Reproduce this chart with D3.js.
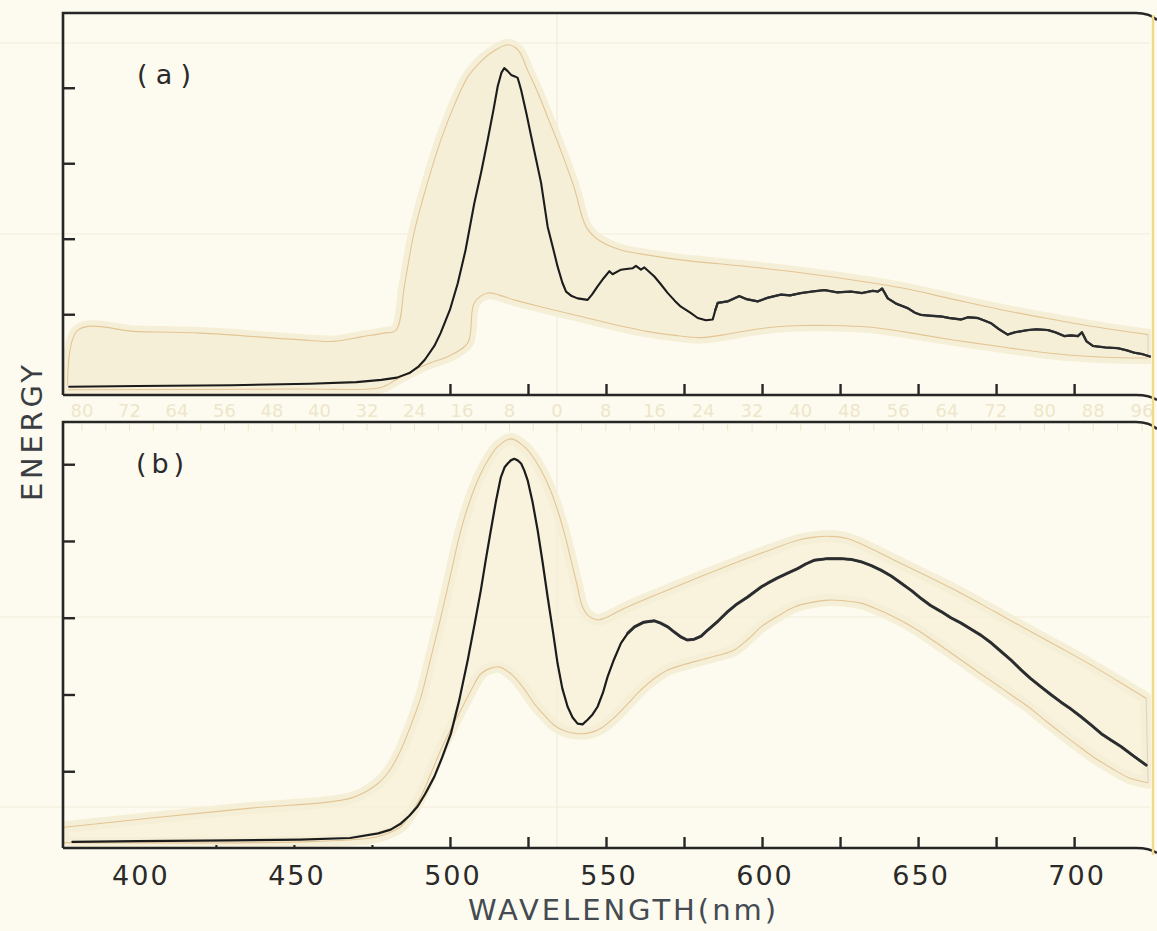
<!DOCTYPE html>
<html>
<head>
<meta charset="utf-8">
<script src="https://cdn.jsdelivr.net/npm/d3@7"></script>
<style>
  html, body { margin: 0; padding: 0; background: #fdfbef; }
  svg { display: block; }
  text { font-family: "DejaVu Sans", sans-serif; }
</style>
</head>
<body>
<svg id="chart" width="1157" height="931"></svg>
<script>
// ---- data: wavelength (nm) vs. relative energy ----
const wavelengthDomain = [376, 724];
const energyTicksA = [1, 2, 3, 4];
const energyTicksB = [1, 2, 3, 4, 5];
const majorTicks = [500, 525, 550, 575, 600, 625, 650, 675, 700];
const minorTicks = [425, 450, 475];
const wavelengthLabels = [400, 450, 500, 550, 600, 650, 700];
const rulerLabels = [-80, -72, -64, -56, -48, -40, -32, -24, -16, -8, 0, 8, 16, 24, 32, 40, 48, 56, 64, 72, 80, 88, 96];

// spectrum (a): measured trace
const traceA = [
  [378,0.04],[400,0.05],[430,0.06],[455,0.08],[470,0.10],[478,0.13],[483,0.16],[487,0.22],[490,0.31],
  [492,0.40],[495,0.58],[497,0.75],[500,1.06],[502.5,1.41],[505,1.85],[507.8,2.47],[510,2.88],[512.1,3.31],
  [514,3.72],[515.3,4.02],[516.5,4.20],[517.4,4.26],[518.5,4.22],[519.6,4.17],[520.8,4.15],[521.7,4.13],
  [522.2,4.06],[522.8,3.97],[524.5,3.66],[526,3.36],[527.6,3.05],[529.2,2.74],[531.3,2.16],[533,1.88],
  [534.5,1.63],[536,1.42],[537.2,1.30],[539,1.24],[540.9,1.21],[544.1,1.19],[545.5,1.26],[547.3,1.37],
  [549.3,1.48],[551.1,1.57],[552.1,1.53],[554.8,1.59],[556.5,1.60],[558.6,1.61],[559.6,1.64],[561.2,1.59],
  [562.3,1.62],[565.5,1.50],[567.5,1.40],[569.8,1.28],[572,1.18],[574,1.10],[577,1.02],[579.4,0.95],
  [582,0.92],[584.2,0.93],[585,1.05],[585.8,1.15],[589,1.17],[592.7,1.24],[595,1.20],[598.6,1.17],
  [602,1.22],[606.1,1.26],[609,1.25],[612.5,1.28],[616,1.30],[620,1.32],[624,1.29],[628.5,1.30],
  [632,1.28],[635.5,1.31],[637.1,1.30],[638.5,1.34],[640.3,1.21],[643,1.14],[646.7,1.08],[649,1.02],
  [651,0.99],[654,0.98],[657.4,0.97],[660,0.95],[663.8,0.93],[666,0.96],[669.1,0.95],[671,0.92],
  [673.4,0.88],[676,0.80],[678.7,0.73],[681,0.76],[685.2,0.79],[688,0.80],[691.6,0.79],[694,0.76],
  [696.9,0.71],[699,0.72],[701.2,0.71],[702.5,0.76],[704,0.64],[706,0.58],[710,0.56],[714,0.55],
  [717,0.52],[719.3,0.49],[722,0.47],[724.3,0.44]
];
// spectrum (a): envelope of the spread
const bandAUpper = [
  [377.5,0.05],[380.8,0.79],[400,0.77],[420.2,0.75],[452.2,0.66],[462.8,0.64],[471.5,0.70],[478.8,0.75],
  [482.7,0.79],[485.5,1.40],[488.5,2.08],[492.5,2.70],[497.1,3.31],[501.5,3.78],[505.8,4.15],[509.5,4.33],
  [513.1,4.46],[518.6,4.57],[521.8,4.50],[525,4.22],[528.2,3.93],[531.4,3.60],[534.6,3.27],[539.7,2.69],
  [543.6,2.16],[547.4,1.99],[554.8,1.85],[564,1.78],[574,1.72],[595.5,1.63],[612.5,1.55],[628,1.46],
  [644.6,1.35],[660,1.21],[676.6,1.06],[692,0.94],[708.7,0.82],[723.7,0.73]
];
const bandALower = [
  [377.5,0.00],[452.2,0.01],[477.9,0.03],[483,0.14],[488.5,0.26],[494,0.36],[499.4,0.44],[505.7,0.62],
  [507.8,1.15],[512.1,1.28],[516,1.25],[520.5,1.19],[531,1.08],[542,0.97],[553,0.86],[563.5,0.77],
  [572,0.72],[580.4,0.69],[588,0.73],[596.5,0.79],[604,0.83],[612.5,0.85],[623,0.85],[634,0.83],
  [645,0.77],[655.1,0.70],[666,0.63],[676.6,0.57],[687,0.51],[698.1,0.46],[710,0.43],[723.7,0.42]
];

// spectrum (b): measured trace
const traceB = [
  [379,0.08],[400,0.09],[430,0.10],[452,0.11],[468,0.13],[477,0.19],[481,0.24],[484.3,0.32],[487,0.42],
  [489.6,0.54],[492,0.70],[495,0.93],[497.5,1.18],[500.3,1.49],[503,1.93],[505.7,2.45],[508,2.94],
  [509.9,3.36],[511.5,3.76],[513.1,4.14],[514.7,4.51],[516.3,4.83],[517.5,4.96],[518.5,5.01],[519.5,5.05],
  [520.6,5.07],[521.7,5.05],[522.8,5.01],[523.8,4.92],[524.9,4.79],[526.5,4.50],[528.1,4.14],[529.7,3.72],
  [531.3,3.27],[533,2.82],[534.5,2.40],[536,2.08],[537.7,1.84],[539.3,1.70],[540.9,1.62],[542.5,1.61],
  [544.1,1.67],[545.7,1.74],[547.3,1.84],[549,2.02],[550.5,2.23],[552.5,2.45],[554.8,2.67],[557,2.80],
  [559.1,2.88],[562,2.94],[565.5,2.96],[567.5,2.93],[569.8,2.88],[572,2.81],[574,2.75],[576,2.71],
  [578.3,2.72],[580.5,2.76],[582.6,2.84],[586,2.96],[589,3.08],[592,3.18],[595.4,3.27],[599.7,3.40],
  [601.8,3.45],[605,3.52],[608.2,3.58],[611.4,3.64],[614,3.70],[616.8,3.75],[621,3.77],[625.3,3.77],
  [628.5,3.76],[631.7,3.73],[635,3.68],[638.1,3.62],[641.5,3.54],[644.6,3.45],[648,3.35],[651,3.25],
  [654,3.16],[657.4,3.08],[660.5,3.00],[663.8,2.93],[667,2.85],[670.2,2.77],[673.5,2.67],[676.6,2.56],
  [680,2.44],[683,2.32],[686,2.21],[689.4,2.10],[692.5,2.00],[695.8,1.90],[699,1.81],[702.2,1.71],
  [705.5,1.60],[708.7,1.49],[712,1.40],[715.1,1.32],[719,1.20],[723.1,1.08]
];
// spectrum (b): envelope of the spread
const bandBUpper = [
  [376.3,0.27],[404.2,0.39],[436.2,0.52],[468.3,0.65],[476.3,0.82],[480.5,1.00],[484.3,1.28],[487.5,1.60],
  [490.7,1.97],[494,2.50],[497.1,3.01],[500.3,3.58],[503.5,4.14],[506.7,4.56],[509.9,4.88],[512.6,5.08],
  [515.3,5.23],[519.6,5.33],[523.8,5.23],[526.5,5.10],[529.2,4.92],[532,4.68],[534.5,4.40],[536.8,4.08],
  [538.8,3.75],[540.7,3.43],[542.5,3.14],[544.5,3.02],[547.3,2.97],[550.5,3.01],[554.8,3.10],[562,3.23],
  [569.8,3.36],[580,3.53],[591.1,3.71],[601,3.86],[611.4,4.01],[616.8,4.05],[622,4.06],[627.5,4.03],
  [635,3.90],[642.4,3.75],[653,3.54],[663.8,3.32],[674.5,3.08],[685.2,2.84],[696,2.60],[706.5,2.36],
  [715,2.15],[723.1,1.95]
];
const bandBLower = [
  [376.3,0.07],[452.2,0.08],[474.7,0.13],[480,0.19],[484.3,0.28],[487.5,0.45],[490.7,0.67],[494,0.98],
  [497.1,1.28],[500.3,1.55],[503.5,1.80],[506.7,2.05],[509.9,2.27],[512.8,2.34],[515.8,2.36],[518.2,2.31],
  [520.6,2.23],[523.8,2.07],[527,1.88],[530.2,1.73],[533.4,1.60],[537,1.52],[540.9,1.49],[544.6,1.50],
  [548.4,1.56],[552.7,1.70],[557,1.88],[560.2,2.02],[563.4,2.14],[566.6,2.24],[569.8,2.32],[575,2.39],
  [580.4,2.45],[586,2.51],[591.1,2.58],[595.5,2.72],[599.7,2.88],[605,3.02],[610.3,3.14],[615.8,3.20],
  [621.2,3.23],[626.5,3.22],[631.7,3.19],[637,3.11],[642.3,3.01],[647.8,2.89],[653.2,2.75],[658.5,2.60],
  [663.8,2.45],[669,2.30],[674.4,2.15],[680,1.99],[685.3,1.84],[690.5,1.67],[695.8,1.50],[701,1.34],
  [706.4,1.18],[712,1.04],[717.3,0.92],[720.5,0.88],[723.7,0.85]
];

// ---- drawing ----
const W = 1157, H = 931;
const LEFT = 63, RIGHT = 1149;
const ink = "#262626";
const paper = "#fdfbef";
const bandFill = "#f6efd7";
const bandEdge = "#e3c595";

const svg = d3.select("#chart");
svg.append("rect").attr("width", W).attr("height", H).attr("fill", paper);

const x = d3.scaleLinear().domain(wavelengthDomain).range([LEFT, RIGHT]);

const panels = [
  { top: 13, bottom: 395, yDomain: [-0.07, 4.99], yTicks: energyTicksA, trace: traceA,
    upper: bandAUpper, lower: bandALower, label: "(a)", labelX: 137, labelY: 84, labelLen: 54,
    minor: false, fillOpacity: 1, paperLines: [43, 234], traceWidth: 2.1, noisyFrom: 585, noisyWidth: 2.3 },
  { top: 422, bottom: 848, yDomain: [0, 5.55], yTicks: energyTicksB, trace: traceB,
    upper: bandBUpper, lower: bandBLower, label: "(b)", labelX: 136, labelY: 473, labelLen: 48,
    minor: true, fillOpacity: 0.7, paperLines: [617, 807], traceWidth: 2.2, noisyFrom: 556, noisyWidth: 3.0 }
];

// faint ruling of the chart paper
const paperG = svg.append("g").attr("stroke", "#f2eddb").attr("stroke-width", 1.2);
panels.forEach(p => {
  p.paperLines.forEach(yy => paperG.append("line").attr("x1", 0).attr("x2", 1150).attr("y1", yy).attr("y2", yy));
  paperG.append("line").attr("x1", 557).attr("x2", 557).attr("y1", p.top).attr("y2", p.bottom);
});

// faint ruler scale printed between the panels
const ruler = d3.scaleLinear().domain([-80, 0, 96]).range([82, 557, 1142]);
svg.append("g").selectAll("text").data(rulerLabels).join("text")
  .attr("x", d => ruler(d)).attr("y", 417)
  .attr("text-anchor", "middle").attr("font-size", 18)
  .attr("fill", "#eee6ca").text(d => Math.abs(d));
svg.append("g").attr("stroke", "#eee6cc").attr("stroke-width", 1)
  .selectAll("line").data(d3.range(-80, 97, 4)).join("line")
  .attr("x1", d => ruler(d)).attr("x2", d => ruler(d)).attr("y1", 424).attr("y2", 431);

panels.forEach((p, i) => {
  const y = d3.scaleLinear().domain(p.yDomain).range([p.bottom, p.top]);
  const g = svg.append("g");
  const clipId = "clip" + i;
  svg.append("clipPath").attr("id", clipId).append("rect")
    .attr("x", LEFT).attr("y", p.top).attr("width", RIGHT - LEFT + 2).attr("height", p.bottom - p.top);

  const edge = d3.line().x(d => x(d[0])).y(d => y(d[1])).curve(d3.curveCatmullRom.alpha(0.5));
  const upperPath = edge(p.upper);
  const lowerRev = edge(p.lower.slice().reverse());
  const areaPath = upperPath + "L" + lowerRev.slice(1) + "Z";

  const bandG = g.append("g").attr("clip-path", `url(#${clipId})`);
  // halo around the envelope
  bandG.append("path").attr("d", areaPath).attr("fill", bandFill).attr("fill-opacity", p.fillOpacity)
    .attr("stroke", bandFill).attr("stroke-width", 12).attr("stroke-linejoin", "round");
  // envelope outline
  bandG.append("path").attr("d", upperPath).attr("fill", "none").attr("stroke", bandEdge).attr("stroke-width", 1.1);
  bandG.append("path").attr("d", edge(p.lower)).attr("fill", "none").attr("stroke", bandEdge).attr("stroke-width", 1.1);
  const uEnd = p.upper[p.upper.length - 1], lEnd = p.lower[p.lower.length - 1];
  bandG.append("line").attr("x1", x(uEnd[0])).attr("y1", y(uEnd[1])).attr("x2", x(lEnd[0])).attr("y2", y(lEnd[1]))
    .attr("stroke", "#ddd6c4").attr("stroke-width", 1.2);

  // measured trace; the long-wavelength part is drawn heavier where the recorder pen is noisy
  const traceLine = d3.line().x(d => x(d[0])).y(d => y(d[1])).curve(d3.curveLinear);
  const traceG = g.append("g").attr("clip-path", `url(#${clipId})`).attr("fill", "none")
    .attr("stroke-linejoin", "round").attr("stroke-linecap", "round");
  traceG.append("path").attr("d", traceLine(p.trace))
    .attr("stroke", "#1c1c1c").attr("stroke-width", p.traceWidth);
  traceG.append("path").attr("d", traceLine(p.trace.filter(d => d[0] >= p.noisyFrom)))
    .attr("stroke", "#2b2d30").attr("stroke-width", p.noisyWidth).attr("stroke-opacity", 0.9);

  // frame with the curled right-hand paper edge
  const frame = g.append("g").attr("fill", "none").attr("stroke", ink).attr("stroke-width", 2.6);
  frame.append("path").attr("d", `M${LEFT},${p.bottom}V${p.top}H1136Q1150,${p.top} 1157,${p.top + 7}`);
  frame.append("path").attr("d", `M${LEFT},${p.bottom}H1136Q1150,${p.bottom} 1157,${p.bottom + 5}`);

  // energy ticks (inward, no labels)
  const yAxis = g.append("g").attr("transform", `translate(${LEFT},0)`)
    .call(d3.axisLeft(y).tickValues(p.yTicks).tickSize(-12).tickFormat(""));
  yAxis.select(".domain").remove();
  yAxis.selectAll("line").attr("stroke", ink).attr("stroke-width", 2.4);

  // wavelength ticks (upward)
  const xAxis = g.append("g").attr("transform", `translate(0,${p.bottom})`)
    .call(d3.axisBottom(x).tickValues(majorTicks).tickSize(-11).tickFormat(""));
  xAxis.select(".domain").remove();
  xAxis.selectAll("line").attr("stroke", ink).attr("stroke-width", 2.4);
  if (p.minor) {
    const xMinor = g.append("g").attr("transform", `translate(0,${p.bottom})`)
      .call(d3.axisBottom(x).tickValues(minorTicks).tickSize(-3).tickFormat(""));
    xMinor.select(".domain").remove();
    xMinor.selectAll("line").attr("stroke", ink).attr("stroke-width", 2.2);
  }

  // panel label
  g.append("text").attr("x", p.labelX).attr("y", p.labelY)
    .attr("font-size", 27).attr("fill", "#2a2a2a")
    .attr("textLength", p.labelLen).attr("lengthAdjust", "spacing").text(p.label);

  if (i === 1) {
    g.append("g").selectAll("text").data(wavelengthLabels).join("text")
      .attr("x", d => x(d) + 3).attr("y", 885)
      .attr("text-anchor", "middle").attr("font-size", 27).attr("letter-spacing", 2)
      .attr("fill", "#2a2a2a").text(d => d);
  }
});

// right paper edge
svg.append("line").attr("x1", 1153).attr("x2", 1153).attr("y1", 15).attr("y2", 855)
  .attr("stroke", "#f3d98c").attr("stroke-width", 2.5);

// axis titles
svg.append("text").attr("x", 622).attr("y", 920).attr("text-anchor", "middle")
  .attr("font-size", 29).attr("fill", "#454b52")
  .attr("textLength", 308).attr("lengthAdjust", "spacing").text("WAVELENGTH(nm)");
svg.append("text").attr("transform", "translate(42,433) rotate(-90)").attr("text-anchor", "middle")
  .attr("font-size", 29).attr("fill", "#3a3d42")
  .attr("textLength", 136).attr("lengthAdjust", "spacing").text("ENERGY");
</script>
</body>
</html>
